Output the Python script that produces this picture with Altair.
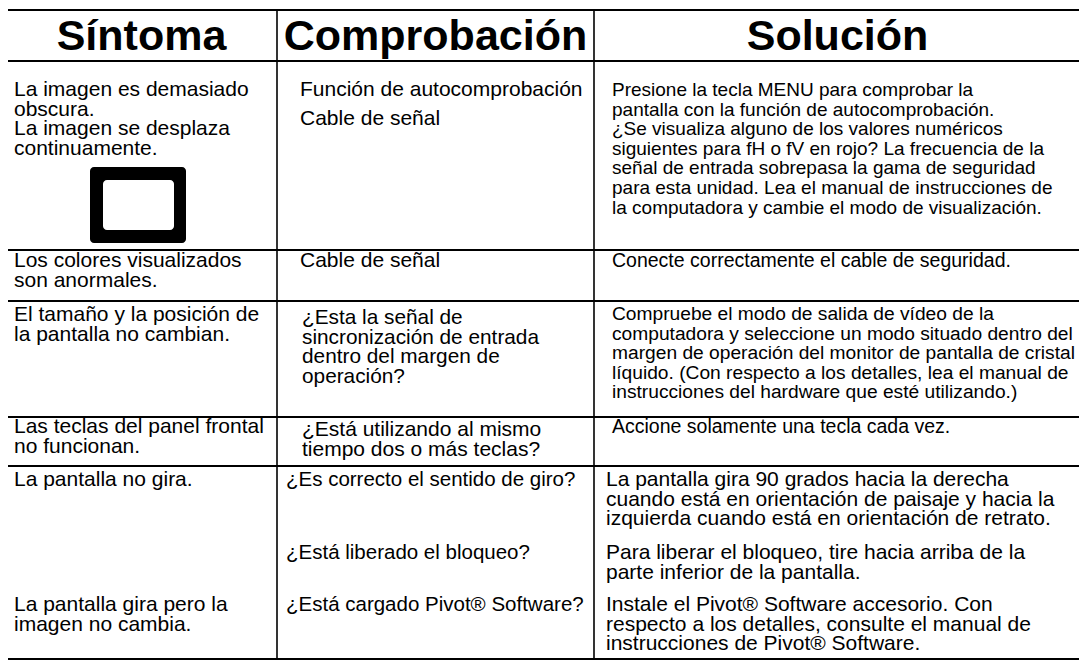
import altair as alt
import pandas as pd

# ---------------- data (texts) ----------------
headers = ["Síntoma", "Comprobación", "Solución"]

symptom_blocks = [
    ["La imagen es demasiado", "obscura.", "La imagen se desplaza", "continuamente."],
    ["Los colores visualizados", "son anormales."],
    ["El tamaño y la posición de", "la pantalla no cambian."],
    ["Las teclas del panel frontal", "no funcionan."],
    ["La pantalla no gira."],
    ["La pantalla gira pero la", "imagen no cambia."],
]
check_blocks = [
    ["Función de autocomprobación"],
    ["Cable de señal"],
    ["Cable de señal"],
    ["¿Esta la señal de", "sincronización de entrada", "dentro del margen de", "operación?"],
    ["¿Está utilizando al mismo", "tiempo dos o más teclas?"],
    ["¿Es correcto el sentido de giro?"],
    ["¿Está liberado el bloqueo?"],
    ["¿Está cargado Pivot® Software?"],
]
solution_blocks = [
    ["Presione la tecla MENU para comprobar la",
     "pantalla con la función de autocomprobación.",
     "¿Se visualiza alguno de los valores numéricos",
     "siguientes para fH o fV en rojo?  La frecuencia de la",
     "señal de entrada sobrepasa la gama de seguridad",
     "para esta unidad. Lea el manual de instrucciones de",
     "la computadora y cambie el modo de visualización."],
    ["Conecte correctamente el cable de seguridad."],
    ["Compruebe el modo de salida de vídeo de la",
     "computadora y seleccione un modo situado dentro del",
     "margen de operación del monitor de pantalla de cristal",
     "líquido. (Con respecto a los detalles, lea el manual de",
     "instrucciones del hardware que esté utilizando.)"],
    ["Accione solamente una tecla cada vez."],
    ["La pantalla gira 90 grados hacia la derecha",
     "cuando está en orientación de paisaje y hacia la",
     "izquierda cuando está en orientación de retrato."],
    ["Para liberar el bloqueo, tire hacia arriba de la",
     "parte inferior de la pantalla."],
    ["Instale el Pivot® Software accesorio. Con",
     "respecto a los detalles, consulte el manual de",
     "instrucciones de Pivot® Software."],
]

# ---------------- layout (table geometry, in page pixels) ----------------
TABLE_TOP = 10
HEADER_BOTTOM = 61
row_edges = [61, 250, 301, 417, 466, 659]
col_edges = [6, 277, 594, 1081]
LINE_H = 19.6

# which row each block belongs to, and offset of its first baseline from the row top
symptom_layout = [(0, 35), (1, 17), (2, 20), (3, 16), (4, 20), (4, 145)]
check_layout = [(0, 35), (0, 64), (1, 17), (2, 23), (3, 19), (4, 20), (4, 93), (4, 145)]
solution_layout = [(0, 35), (1, 17), (2, 19), (3, 16), (4, 20), (4, 93), (4, 145)]

col_text_x = [[14, 14, 14, 14, 14, 14],
              [300, 300, 300, 302, 302, 286, 286, 286],
              [612, 612, 612, 612, 606, 606, 606]]
symptom_size = [21] * 6
check_size = [21, 21, 21, 20.8, 21, 20.5, 20.5, 20.5]
solution_size = [19, 19.5, 19.2, 19.5, 21, 21, 21]

# icon (monitor glyph) in row 1
icon_outer = dict(x=90, x2=186, y=167, y2=243)
icon_inner = dict(x=103, x2=174, y=180, y2=230)

# ---------------- build tables ----------------
text_rows = []
for blocks, layout, xs, sizes in [
    (symptom_blocks, symptom_layout, col_text_x[0], symptom_size),
    (check_blocks, check_layout, col_text_x[1], check_size),
    (solution_blocks, solution_layout, col_text_x[2], solution_size),
]:
    for lines, (r, dy), x0, fs in zip(blocks, layout, xs, sizes):
        for i, t in enumerate(lines):
            text_rows.append({"x": x0, "y": row_edges[r] + dy + i * LINE_H, "text": t, "fs": fs})
texts = pd.DataFrame(text_rows)

hdr = pd.DataFrame({
    "x": [(col_edges[i] + col_edges[i + 1]) / 2 for i in range(3)],
    "y": [50, 50, 50],
    "text": headers,
})

segs = []
L, R = col_edges[0], col_edges[-1]
B = row_edges[-1]
segs.append(dict(x=L, x2=R, y=TABLE_TOP, y2=TABLE_TOP, w=2.2))
segs.append(dict(x=L, x2=R, y=B, y2=B, w=2.2))
segs.append(dict(x=L, x2=L, y=TABLE_TOP, y2=B, w=3))
segs.append(dict(x=R, x2=R, y=TABLE_TOP, y2=B, w=2.2))
segs.append(dict(x=L, x2=R, y=HEADER_BOTTOM, y2=HEADER_BOTTOM, w=2))
for yv in row_edges[1:-1]:
    segs.append(dict(x=L, x2=R, y=yv, y2=yv, w=1.8))
for xv in col_edges[1:-1]:
    segs.append(dict(x=xv, x2=xv, y=TABLE_TOP, y2=B, w=1.6))
lines_df = pd.DataFrame(segs)

icon_df = pd.DataFrame([dict(icon_outer, c="black"), dict(icon_inner, c="white")])

# ---------------- chart ----------------
W, H = 1071, 653
xs = alt.Scale(domain=[8, 8 + W])
ys = alt.Scale(domain=[8, 8 + H], reverse=True)

rules = alt.Chart(lines_df).mark_rule(color="black", strokeCap="square").encode(
    x=alt.X("x:Q", scale=xs, axis=None),
    x2="x2:Q",
    y=alt.Y("y:Q", scale=ys, axis=None),
    y2="y2:Q",
    strokeWidth=alt.StrokeWidth("w:Q", scale=None, legend=None),
)

icon = alt.Chart(icon_df).mark_rect(cornerRadius=4).encode(
    x=alt.X("x:Q", scale=xs, axis=None),
    x2="x2:Q",
    y=alt.Y("y:Q", scale=ys, axis=None),
    y2="y2:Q",
    color=alt.Color("c:N", scale=None, legend=None),
)

body = alt.Chart(texts).mark_text(
    align="left", baseline="alphabetic", font="Liberation Sans", color="black"
).encode(
    x=alt.X("x:Q", scale=xs, axis=None),
    y=alt.Y("y:Q", scale=ys, axis=None),
    text="text:N",
    size=alt.Size("fs:Q", scale=None, legend=None),
)

head = alt.Chart(hdr).mark_text(
    align="center", baseline="alphabetic", font="Liberation Sans",
    fontWeight="bold", fontSize=43, color="black"
).encode(
    x=alt.X("x:Q", scale=xs, axis=None),
    y=alt.Y("y:Q", scale=ys, axis=None),
    text="text:N",
)

chart = alt.layer(rules, icon, body, head).properties(
    width=W, height=H, padding=0, autosize=alt.AutoSizeParams(type="none"),
    background="white",
).configure_view(stroke=None)

chart.save("out.html", embed_options={"renderer": "svg", "actions": False})
